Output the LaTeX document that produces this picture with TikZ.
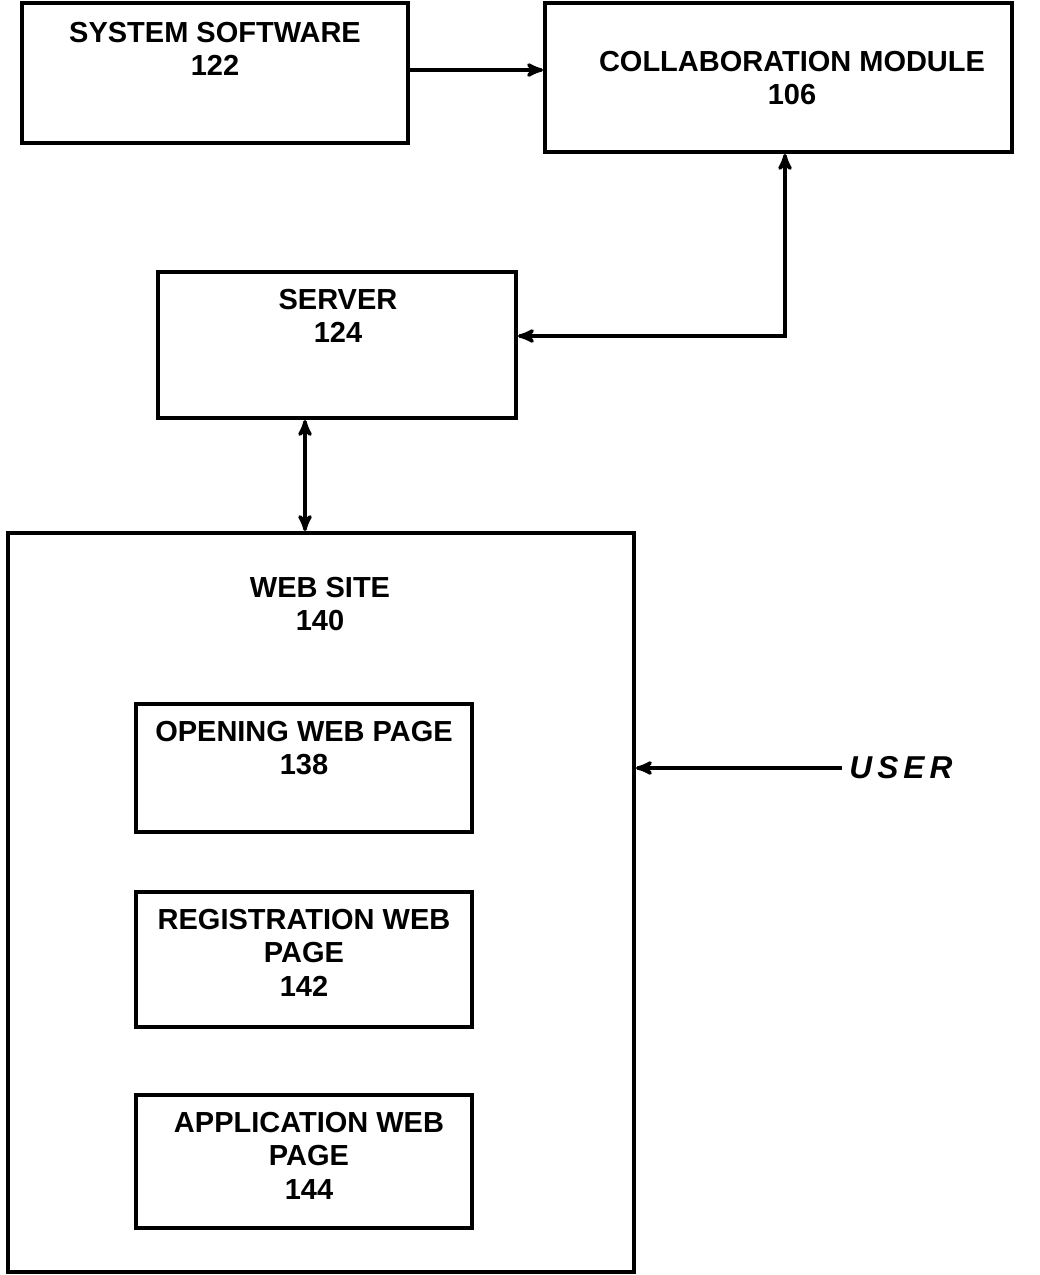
\documentclass[tikz,border=0pt]{standalone}
\usepackage{fontspec}
\setmainfont{Liberation Sans}
\usetikzlibrary{arrows,fit}

\begin{document}
\begin{tikzpicture}[x=0.02cm,y=-0.02cm,
    box/.style={draw,line width=2.3pt,inner sep=0pt},
    caption/.style={anchor=north,align=center,inner sep=0pt,
        font={\fontsize{16.5}{19}\selectfont\bfseries}},
    link/.style={line width=2pt,>=stealth'}]
\useasboundingbox (0,0) rectangle (1040,1275);

\node[box,fit={(22,3) (408,143)}] (ss) {};
\node[caption] (sstext) at (215,22) {SYSTEM SOFTWARE\\122};
\node[box,fit={(545,3) (1012,152)}] (cm) {};
\node[caption] (cmtext) at (792,51) {COLLABORATION MODULE\\106};
\node[box,fit={(158,272) (516,418)}] (server) {};
\node[caption] (servertext) at (338,289) {SERVER\\124};

\node[box,fit={(8,533) (634,1272)}] (web) {};
\node[caption] (webtext) at (320,577) {WEB SITE\\140};
\node[box,fit={(136,704) (472,832)}] (opening) {};
\node[caption] (openingtext) at (304,721) {OPENING WEB PAGE\\138};
\node[box,fit={(136,892) (472,1027)}] (reg) {};
\node[caption] (regtext) at (304,909) {REGISTRATION WEB\\PAGE\\142};
\node[box,fit={(136,1095) (472,1228)}] (app) {};
\node[caption] (apptext) at (309,1112) {APPLICATION WEB\\PAGE\\144};

\node[anchor=west,inner sep=4pt,
    font={\fontsize{18}{20}\selectfont\bfseries\itshape\addfontfeatures{LetterSpace=16}}]
    (user) at (842,768) {USER};

\coordinate (bend) at (785,336);
\coordinate (drop) at (305,475);
\draw[link,->] (ss.east |- 0,70) -- (cm.west |- 0,70);
\draw[link,<->] (cm.south -| bend) -- (bend) -- (bend -| server.east);
\draw[link,<->] (server.south -| drop) -- (web.north -| drop);
\draw[link,->] (user.west) -- (user.west -| web.east);
\end{tikzpicture}
\end{document}
